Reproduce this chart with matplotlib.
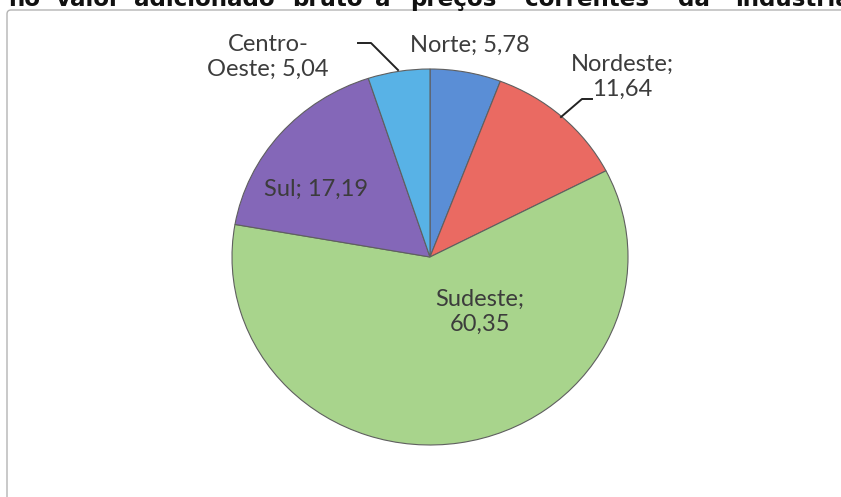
import matplotlib
matplotlib.use("Agg")
import matplotlib.pyplot as plt
from matplotlib.patches import FancyBboxPatch

# dados da figura
regioes = ["Norte", "Nordeste", "Sudeste", "Sul", "Centro-Oeste"]
valores = [5.78, 11.64, 60.35, 17.19, 5.04]
cores = ["#5a8ed6", "#ea6a62", "#a8d48c", "#8467b8", "#58b2e6"]
rotulos = ["Norte; 5,78", "Nordeste;\n11,64", "Sudeste;\n60,35", "Sul; 17,19", "Centro-\nOeste; 5,04"]
titulo = ["no", "valor", "adicionado", "bruto", "a", "preços", "correntes", "da", "indústria"]
titulo_x = [8, 56, 134, 292, 375, 410, 525, 678, 735]
titulo_larg = [32, 65, 139, 65, 16, 99, 135, 35, 101]  # largura aproximada das palavras

W, H = 841, 497
fig = plt.figure(figsize=(W / 100, H / 100), dpi=100)
fig.patch.set_facecolor("white")

# camada de fundo em coordenadas de pixel
bg = fig.add_axes([0, 0, 1, 1])
bg.set_xlim(0, W)
bg.set_ylim(H, 0)
bg.axis("off")

caixa = FancyBboxPatch((7, 10), 900, 600, boxstyle="round,pad=0,rounding_size=4",
                       fc="white", ec="#b4b4b4", lw=1.0)
bg.add_patch(caixa)

# titulo cortado no topo: ajusta o tamanho da fonte a largura total das palavras
txts = [bg.text(x, 6, p, fontsize=18, fontweight="bold", color="#111111",
                ha="left", va="baseline", family="DejaVu Sans")
        for p, x in zip(titulo, titulo_x)]
r = fig.canvas.get_renderer()
medida = sum(t.get_window_extent(r).width for t in txts)
tam = 18 * sum(titulo_larg) / medida
for t in txts:
    t.set_fontsize(tam)

# pizza (levemente eliptica, como no original)
cx, cy, rx, ry = 430, 257, 198, 188
ax = fig.add_axes([(cx - rx) / W, 1 - (cy + ry) / H, 2 * rx / W, 2 * ry / H])
wedges, _ = ax.pie(valores, colors=cores, startangle=90, counterclock=False,
                   wedgeprops=dict(edgecolor="#5f5f5f", linewidth=0.8))
ax.set_aspect("auto")
ax.set_xlim(-1.0, 1.0)
ax.set_ylim(-1.0, 1.0)
ax.axis("off")

# camada de rotulos por cima da pizza
top = fig.add_axes([0, 0, 1, 1])
top.set_xlim(0, W)
top.set_ylim(H, 0)
top.axis("off")
top.patch.set_alpha(0)

fonte = dict(fontsize=17, color="#3c3c3c", family="Lato", ha="center", va="center",
             linespacing=1.25)
top.text(470, 45, rotulos[0], **fonte)
top.text(622, 77, rotulos[1], **fonte)
top.text(480, 312, rotulos[2], **fonte)
top.text(316, 189, rotulos[3], **fonte)
top.text(268, 57, rotulos[4], **fonte)

# linhas de chamada
top.plot([358, 371, 398], [43, 43, 70], color="#222222", lw=1.4)
top.plot([592, 582, 561], [99, 99, 117], color="#222222", lw=1.4)

fig.savefig("out.png", dpi=100)
